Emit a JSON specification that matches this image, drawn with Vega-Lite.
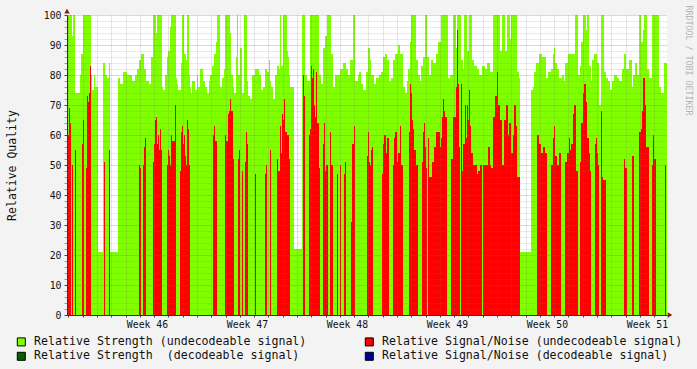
{
  "$schema": "https://vega.github.io/schema/vega-lite/v6.json",
  "width": 600,
  "height": 300,
  "autosize": {"type": "none"},
  "padding": {"left": 67, "top": 15, "right": 30, "bottom": 54},
  "background": "#f3f3f3",
  "config": {
    "view": {"fill": "white", "stroke": null},
    "font": "DejaVu Sans Mono",
    "axis": {"labelFont": "DejaVu Sans Mono", "titleFont": "DejaVu Sans Mono", "labelColor": "#111", "titleColor": "#111", "domainColor": "#333", "tickColor": "#444"}
  },
  "resolve": {"axis": {"x": "independent", "y": "independent"}},
  "datasets": {
    "strength": [
      {"step":0,"q":85},{"step":1,"q":100},{"step":5,"q":93},{"step":6,"q":100},{"step":8,"q":74},{"step":13,"q":80},{"step":14,"q":87},{"step":16,"q":100},{"step":24,"q":80},{"step":25,"q":75},{"step":27,"q":80},{"step":28,"q":76},{"step":31,"q":21},{"step":36,"q":84},{"step":38,"q":80},{"step":40,"q":79},{"step":42,"q":84},{"step":43,"q":21},{"step":51,"q":79},{"step":53,"q":77},{"step":56,"q":81},{"step":60,"q":80},{"step":65,"q":78},{"step":68,"q":80},{"step":70,"q":82},{"step":72,"q":85},{"step":74,"q":87},{"step":77,"q":82},{"step":79,"q":78},{"step":82,"q":77},{"step":84,"q":86},{"step":86,"q":100},{"step":89,"q":94},{"step":90,"q":100},{"step":95,"q":76},{"step":96,"q":75},{"step":98,"q":80},{"step":100,"q":86},{"step":101,"q":88},{"step":103,"q":96},{"step":104,"q":100},{"step":109,"q":79},{"step":110,"q":77},{"step":111,"q":75},{"step":114,"q":84},{"step":115,"q":100},{"step":117,"q":87},{"step":119,"q":85},{"step":120,"q":100},{"step":122,"q":80},{"step":123,"q":76},{"step":124,"q":74},{"step":125,"q":78},{"step":128,"q":75},{"step":130,"q":80},{"step":131,"q":76},{"step":133,"q":82},{"step":136,"q":78},{"step":138,"q":76},{"step":140,"q":74},{"step":142,"q":78},{"step":143,"q":80},{"step":145,"q":83},{"step":147,"q":87},{"step":149,"q":91},{"step":150,"q":100},{"step":153,"q":76},{"step":155,"q":79},{"step":157,"q":82},{"step":158,"q":100},{"step":163,"q":94},{"step":164,"q":80},{"step":166,"q":76},{"step":167,"q":74},{"step":169,"q":86},{"step":170,"q":100},{"step":171,"q":80},{"step":173,"q":89},{"step":175,"q":74},{"step":177,"q":100},{"step":180,"q":78},{"step":181,"q":73},{"step":183,"q":72},{"step":185,"q":80},{"step":188,"q":82},{"step":192,"q":80},{"step":194,"q":75},{"step":196,"q":76},{"step":198,"q":82},{"step":200,"q":81},{"step":202,"q":85},{"step":203,"q":78},{"step":204,"q":76},{"step":206,"q":72},{"step":208,"q":80},{"step":210,"q":83},{"step":212,"q":82},{"step":213,"q":100},{"step":214,"q":83},{"step":216,"q":100},{"step":220,"q":88},{"step":221,"q":86},{"step":222,"q":80},{"step":223,"q":76},{"step":227,"q":22},{"step":235,"q":100},{"step":238,"q":80},{"step":240,"q":78},{"step":243,"q":100},{"step":252,"q":80},{"step":254,"q":77},{"step":256,"q":89},{"step":258,"q":93},{"step":260,"q":100},{"step":264,"q":87},{"step":266,"q":76},{"step":268,"q":80},{"step":273,"q":82},{"step":276,"q":84},{"step":279,"q":82},{"step":281,"q":80},{"step":283,"q":85},{"step":286,"q":100},{"step":288,"q":78},{"step":291,"q":80},{"step":292,"q":81},{"step":294,"q":77},{"step":296,"q":75},{"step":299,"q":81},{"step":301,"q":89},{"step":303,"q":85},{"step":304,"q":80},{"step":307,"q":77},{"step":309,"q":79},{"step":312,"q":80},{"step":314,"q":81},{"step":316,"q":86},{"step":318,"q":87},{"step":320,"q":85},{"step":322,"q":78},{"step":324,"q":79},{"step":326,"q":85},{"step":328,"q":87},{"step":331,"q":90},{"step":333,"q":87},{"step":336,"q":76},{"step":338,"q":74},{"step":340,"q":78},{"step":341,"q":82},{"step":343,"q":91},{"step":344,"q":100},{"step":349,"q":85},{"step":351,"q":80},{"step":353,"q":78},{"step":354,"q":83},{"step":356,"q":86},{"step":358,"q":100},{"step":360,"q":86},{"step":362,"q":80},{"step":364,"q":85},{"step":366,"q":84},{"step":369,"q":87},{"step":371,"q":91},{"step":374,"q":100},{"step":381,"q":79},{"step":383,"q":80},{"step":386,"q":100},{"step":389,"q":89},{"step":390,"q":100},{"step":394,"q":85},{"step":396,"q":82},{"step":397,"q":100},{"step":400,"q":88},{"step":402,"q":100},{"step":405,"q":85},{"step":407,"q":83},{"step":410,"q":82},{"step":412,"q":80},{"step":415,"q":83},{"step":418,"q":82},{"step":420,"q":84},{"step":423,"q":81},{"step":426,"q":100},{"step":433,"q":88},{"step":435,"q":100},{"step":438,"q":88},{"step":440,"q":100},{"step":443,"q":92},{"step":444,"q":100},{"step":450,"q":81},{"step":452,"q":79},{"step":453,"q":21},{"step":464,"q":75},{"step":466,"q":76},{"step":467,"q":81},{"step":469,"q":84},{"step":472,"q":87},{"step":475,"q":86},{"step":479,"q":79},{"step":481,"q":81},{"step":484,"q":82},{"step":486,"q":87},{"step":487,"q":89},{"step":488,"q":84},{"step":490,"q":82},{"step":492,"q":79},{"step":495,"q":80},{"step":497,"q":78},{"step":498,"q":84},{"step":501,"q":87},{"step":508,"q":100},{"step":511,"q":80},{"step":513,"q":83},{"step":514,"q":91},{"step":516,"q":100},{"step":519,"q":95},{"step":520,"q":100},{"step":522,"q":83},{"step":524,"q":78},{"step":525,"q":85},{"step":527,"q":87},{"step":530,"q":84},{"step":532,"q":70},{"step":534,"q":100},{"step":537,"q":81},{"step":539,"q":79},{"step":541,"q":78},{"step":543,"q":75},{"step":545,"q":78},{"step":547,"q":80},{"step":550,"q":79},{"step":552,"q":78},{"step":555,"q":82},{"step":557,"q":87},{"step":559,"q":82},{"step":562,"q":85},{"step":565,"q":76},{"step":566,"q":80},{"step":568,"q":84},{"step":570,"q":80},{"step":572,"q":100},{"step":574,"q":91},{"step":576,"q":95},{"step":577,"q":100},{"step":580,"q":82},{"step":582,"q":79},{"step":585,"q":100},{"step":592,"q":76},{"step":594,"q":74},{"step":597,"q":84},{"step":600,"q":84}
    ],
    "snr": [
      {"step":0,"q":54},{"step":1,"q":60},{"step":2,"q":69},{"step":3,"q":64},{"step":4,"q":0},{"step":5,"q":50},{"step":6,"q":0},{"step":8,"q":55},{"step":9,"q":0},{"step":15,"q":57},{"step":16,"q":65},{"step":17,"q":0},{"step":19,"q":49},{"step":20,"q":73},{"step":21,"q":71},{"step":22,"q":74},{"step":23,"q":83},{"step":24,"q":0},{"step":37,"q":51},{"step":38,"q":0},{"step":42,"q":55},{"step":43,"q":0},{"step":72,"q":50},{"step":73,"q":49},{"step":74,"q":0},{"step":76,"q":50},{"step":77,"q":56},{"step":78,"q":59},{"step":79,"q":0},{"step":86,"q":51},{"step":87,"q":57},{"step":88,"q":65},{"step":89,"q":66},{"step":90,"q":57},{"step":91,"q":60},{"step":92,"q":55},{"step":93,"q":62},{"step":94,"q":55},{"step":95,"q":0},{"step":100,"q":50},{"step":101,"q":55},{"step":102,"q":53},{"step":103,"q":50},{"step":104,"q":60},{"step":105,"q":58},{"step":108,"q":70},{"step":109,"q":0},{"step":113,"q":48},{"step":114,"q":61},{"step":115,"q":63},{"step":116,"q":57},{"step":117,"q":60},{"step":118,"q":53},{"step":119,"q":50},{"step":120,"q":65},{"step":121,"q":62},{"step":122,"q":50},{"step":123,"q":0},{"step":146,"q":60},{"step":147,"q":63},{"step":148,"q":58},{"step":150,"q":0},{"step":158,"q":60},{"step":159,"q":58},{"step":161,"q":67},{"step":162,"q":68},{"step":163,"q":72},{"step":164,"q":68},{"step":166,"q":52},{"step":167,"q":0},{"step":171,"q":52},{"step":172,"q":55},{"step":173,"q":0},{"step":175,"q":48},{"step":176,"q":0},{"step":178,"q":51},{"step":179,"q":61},{"step":180,"q":57},{"step":181,"q":0},{"step":188,"q":47},{"step":189,"q":0},{"step":198,"q":47},{"step":199,"q":50},{"step":200,"q":0},{"step":203,"q":55},{"step":204,"q":0},{"step":210,"q":52},{"step":211,"q":48},{"step":213,"q":63},{"step":214,"q":54},{"step":215,"q":67},{"step":216,"q":65},{"step":217,"q":72},{"step":218,"q":61},{"step":220,"q":60},{"step":222,"q":52},{"step":223,"q":0},{"step":236,"q":80},{"step":237,"q":73},{"step":238,"q":0},{"step":242,"q":60},{"step":243,"q":62},{"step":244,"q":83},{"step":245,"q":79},{"step":246,"q":82},{"step":247,"q":70},{"step":248,"q":66},{"step":249,"q":81},{"step":250,"q":64},{"step":252,"q":49},{"step":253,"q":0},{"step":256,"q":57},{"step":257,"q":64},{"step":258,"q":48},{"step":259,"q":50},{"step":261,"q":0},{"step":263,"q":61},{"step":264,"q":50},{"step":266,"q":0},{"step":270,"q":47},{"step":271,"q":0},{"step":273,"q":50},{"step":274,"q":0},{"step":277,"q":47},{"step":278,"q":51},{"step":279,"q":0},{"step":284,"q":31},{"step":285,"q":57},{"step":287,"q":63},{"step":288,"q":0},{"step":300,"q":53},{"step":301,"q":61},{"step":302,"q":51},{"step":303,"q":50},{"step":304,"q":55},{"step":305,"q":56},{"step":306,"q":0},{"step":315,"q":47},{"step":316,"q":57},{"step":317,"q":60},{"step":319,"q":54},{"step":320,"q":59},{"step":322,"q":0},{"step":326,"q":50},{"step":327,"q":59},{"step":328,"q":61},{"step":330,"q":51},{"step":331,"q":54},{"step":333,"q":63},{"step":334,"q":50},{"step":336,"q":0},{"step":342,"q":61},{"step":343,"q":77},{"step":344,"q":74},{"step":345,"q":65},{"step":346,"q":62},{"step":347,"q":55},{"step":349,"q":50},{"step":351,"q":0},{"step":355,"q":51},{"step":356,"q":61},{"step":357,"q":64},{"step":358,"q":56},{"step":359,"q":49},{"step":360,"q":0},{"step":361,"q":59},{"step":362,"q":46},{"step":365,"q":51},{"step":367,"q":56},{"step":369,"q":61},{"step":373,"q":56},{"step":374,"q":59},{"step":375,"q":66},{"step":376,"q":72},{"step":377,"q":68},{"step":378,"q":66},{"step":380,"q":0},{"step":384,"q":52},{"step":386,"q":66},{"step":389,"q":76},{"step":390,"q":95},{"step":391,"q":77},{"step":392,"q":56},{"step":393,"q":0},{"step":394,"q":77},{"step":395,"q":48},{"step":396,"q":57},{"step":398,"q":70},{"step":399,"q":59},{"step":400,"q":70},{"step":401,"q":65},{"step":402,"q":75},{"step":403,"q":63},{"step":404,"q":54},{"step":406,"q":50},{"step":410,"q":47},{"step":411,"q":48},{"step":413,"q":50},{"step":415,"q":0},{"step":416,"q":50},{"step":421,"q":56},{"step":423,"q":50},{"step":424,"q":49},{"step":426,"q":66},{"step":428,"q":73},{"step":430,"q":81},{"step":431,"q":70},{"step":433,"q":65},{"step":435,"q":50},{"step":437,"q":65},{"step":439,"q":70},{"step":441,"q":60},{"step":442,"q":64},{"step":444,"q":54},{"step":446,"q":60},{"step":447,"q":70},{"step":449,"q":63},{"step":450,"q":46},{"step":453,"q":0},{"step":470,"q":60},{"step":472,"q":57},{"step":474,"q":54},{"step":476,"q":56},{"step":478,"q":54},{"step":480,"q":0},{"step":484,"q":50},{"step":486,"q":59},{"step":487,"q":63},{"step":488,"q":53},{"step":490,"q":50},{"step":492,"q":54},{"step":494,"q":0},{"step":498,"q":51},{"step":500,"q":54},{"step":502,"q":59},{"step":503,"q":55},{"step":504,"q":57},{"step":506,"q":67},{"step":507,"q":70},{"step":509,"q":48},{"step":511,"q":0},{"step":513,"q":51},{"step":514,"q":64},{"step":516,"q":74},{"step":517,"q":77},{"step":519,"q":71},{"step":520,"q":59},{"step":522,"q":54},{"step":523,"q":48},{"step":524,"q":0},{"step":528,"q":57},{"step":529,"q":59},{"step":530,"q":54},{"step":531,"q":50},{"step":532,"q":0},{"step":534,"q":68},{"step":535,"q":46},{"step":536,"q":45},{"step":539,"q":0},{"step":557,"q":52},{"step":558,"q":49},{"step":560,"q":0},{"step":565,"q":53},{"step":567,"q":0},{"step":572,"q":61},{"step":574,"q":62},{"step":575,"q":68},{"step":576,"q":79},{"step":578,"q":70},{"step":579,"q":56},{"step":582,"q":0},{"step":585,"q":50},{"step":586,"q":60},{"step":587,"q":52},{"step":589,"q":0},{"step":598,"q":50},{"step":599,"q":0},{"step":600,"q":0}
    ]
  },
  "layer": [
    {
      "data": {"name": "strength"},
      "mark": {"type": "area", "interpolate": "step-after"},
      "encoding": {
        "x": {"field": "step", "type": "quantitative", "scale": {"domain": [0, 600], "nice": false, "zero": false},
          "axis": {
            "title": null, "zindex": 1,
            "values": [1.43,15.71,30,44.29,58.57,72.86,87.14,101.43,115.71,130,144.29,158.57,172.86,187.14,201.43,215.71,230,244.29,258.57,272.86,287.14,301.43,315.71,330,344.29,358.57,372.86,387.14,401.43,415.71,430,444.29,458.57,472.86,487.14,501.43,515.71,530,544.29,558.57,572.86,587.14,80,180,280,380,480,580],
            "labelExpr": "datum.value % 100 === 80 ? 'Week ' + (46 + floor(datum.value / 100)) : ''",
            "labelFontSize": 9.8, "labelPadding": 2, "labelOverlap": false, "labelFlush": false,
            "tickSize": 2,
            "tickOpacity": {"condition": {"test": "datum.value % 100 === 80", "value": 0}, "value": 1},
            "grid": true, "gridDash": [1, 1],
            "gridColor": {"condition": {"test": "abs(datum.value % 100 - 30) < 0.01", "value": "#d04040"}, "value": "#707070"},
            "gridOpacity": {"condition": {"test": "datum.value % 100 === 80", "value": 0}, "value": 0.35}
          }},
        "y": {"field": "q", "type": "quantitative", "stack": null, "scale": {"domain": [0, 100], "nice": false, "zero": false},
          "axis": {
            "title": "Relative Quality", "titleFontSize": 11.5, "titleFontWeight": "normal", "titlePadding": 26, "zindex": 1,
            "values": [0,2,4,6,8,10,12,14,16,18,20,22,24,26,28,30,32,34,36,38,40,42,44,46,48,50,52,54,56,58,60,62,64,66,68,70,72,74,76,78,80,82,84,86,88,90,92,94,96,98,100],
            "labelExpr": "datum.value % 10 === 0 ? datum.label : ''",
            "labelFontSize": 9.8, "labelPadding": 3, "labelOverlap": false, "labelFlush": false,
            "tickSize": 3,
            "tickOpacity": {"condition": {"test": "datum.value % 10 === 0", "value": 1}, "value": 0.5},
            "grid": true, "gridDash": [1, 1],
            "gridColor": {"condition": {"test": "datum.value % 10 === 0", "value": "#d04040"}, "value": "#707070"},
            "gridOpacity": {"condition": {"test": "datum.value % 10 === 0", "value": 0.5}, "value": 0.3}
          }},
        "fill": {"datum": "Relative Strength (undecodeable signal)", "type": "nominal",
          "scale": {"domain": ["Relative Strength (undecodeable signal)", "Relative Strength\u00a0 (decodeable signal)", "Relative Signal/Noise (undecodeable signal)", "Relative Signal/Noise (decodeable signal)"], "range": ["#80ff00", "#006400", "#ff0000", "#00009c"]},
          "legend": {"orient": "none", "legendX": -51.5, "legendY": 321, "columns": 2, "columnPadding": 56, "rowPadding": 1.5, "symbolType": "square", "symbolSize": 64, "symbolStrokeColor": "#000", "symbolStrokeWidth": 1, "symbolOpacity": 1, "labelFont": "DejaVu Sans Mono", "labelFontSize": 11.6, "labelColor": "#111", "labelOffset": 7, "labelLimit": 500, "title": null, "padding": 0}}
      }
    },
    {
      "data": {"name": "snr"},
      "mark": {"type": "area", "interpolate": "step-after"},
      "encoding": {
        "x": {"field": "step", "type": "quantitative", "axis": null},
        "y": {"field": "q", "type": "quantitative", "stack": null, "axis": null},
        "fill": {"datum": "Relative Signal/Noise (undecodeable signal)", "type": "nominal"}
      }
    },
    {
      "data": {"values": [{}]},
      "mark": {"type": "point", "shape": "triangle-right", "filled": true, "size": 30, "color": "#8b1a1a", "opacity": 1},
      "encoding": {"x": {"datum": 603, "type": "quantitative", "axis": null}, "y": {"datum": 0, "type": "quantitative", "axis": null}}
    },
    {
      "data": {"values": [{}]},
      "mark": {"type": "point", "shape": "triangle-up", "filled": true, "size": 30, "color": "#8b1a1a", "opacity": 1},
      "encoding": {"x": {"datum": 0, "type": "quantitative", "axis": null},
        "y": {"datum": 101.3, "type": "quantitative",
          "axis": {"orient": "right", "title": "RRDTOOL / TOBI OETIKER", "labels": false, "ticks": false, "domain": false, "grid": false,
            "titleAngle": 90, "titleX": 20, "titleY": -10, "titleAlign": "left", "titleBaseline": "middle",
            "titleFont": "DejaVu Sans Mono", "titleFontSize": 8.3, "titleFontWeight": "normal", "titleColor": "#b4b4b4"}}}
    }
  ]
}
